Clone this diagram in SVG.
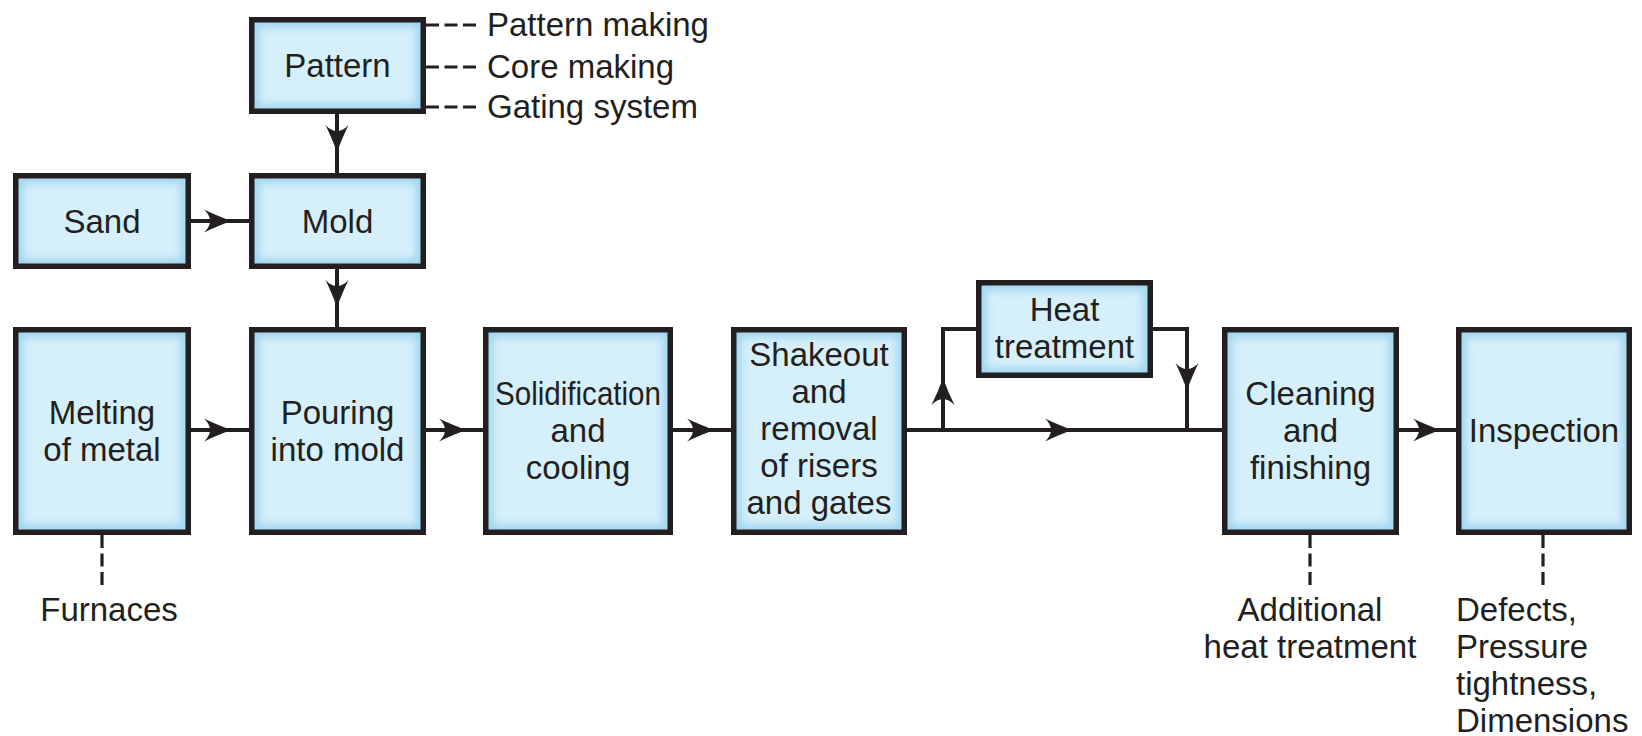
<svg xmlns="http://www.w3.org/2000/svg" width="1642" height="736" viewBox="0 0 1642 736">
<style>
.fill{fill:#9fd5f0}
.glow{fill:#d5effb;filter:url(#soft)}
.frame{fill:none;stroke:#231f20;stroke-width:5.5}
text{font-family:"Liberation Sans",Arial,Helvetica,sans-serif;font-size:33px;fill:#231f20}
.c{text-anchor:middle}
.line{fill:none;stroke:#231f20;stroke-width:4}
.arr{marker-mid:url(#ah)}
.dash{fill:none;stroke:#231f20;stroke-width:3.2;stroke-dasharray:13 5.5}
</style>
<defs>
<filter id="soft" x="-10%" y="-10%" width="120%" height="120%"><feGaussianBlur stdDeviation="4"/></filter>
<marker id="ah" markerUnits="userSpaceOnUse" viewBox="-28 -12 30 24" refX="0" refY="0" markerWidth="30" markerHeight="24" orient="auto">
<path d="M0,0 C-8,-3 -18,-7 -27,-11.5 C-19,-4 -19,4 -27,11.5 C-18,7 -8,3 0,0 Z" fill="#231f20"/>
</marker>
</defs>

<g id="connectors">
<path class="line arr" d="M337,114 L337,152 L337,173"/>
<path class="line arr" d="M191,221 L231,221 L249,221"/>
<path class="line arr" d="M337,269 L337,307 L337,327"/>
<path class="line arr" d="M191,430 L231,430 L249,430"/>
<path class="line arr" d="M426,430 L466,430 L483,430"/>
<path class="line arr" d="M673,430 L714,430 L731,430"/>
<path class="line arr" d="M907,430 L1072,430 L1222,430"/>
<path class="line" d="M943,430 L943,329 L976,329"/>
<path class="line arr" d="M943,410 L943,378 L943,360"/>
<path class="line" d="M1153,329 L1187,329 L1187,430"/>
<path class="line arr" d="M1187,360 L1187,390 L1187,410"/>
<path class="line arr" d="M1399,430 L1440,430 L1456,430"/>
<path class="dash" d="M426,25 H478 M426,67 H478 M426,107 H478"/>
<path class="dash" d="M102,535 V588"/>
<path class="dash" d="M1310,535 V588"/>
<path class="dash" d="M1543,535 V588"/>
</g>

<g id="pattern">
<rect class="fill" x="251.75" y="19.75" width="171.5" height="91.5"/>
<rect class="glow" x="259" y="27" width="157" height="77"/>
<rect class="frame" x="251.75" y="19.75" width="171.5" height="91.5"/>
<text class="c" x="337.5" y="77">Pattern</text>
</g>

<g id="sand">
<rect class="fill" x="15.75" y="175.75" width="172.5" height="90.5"/>
<rect class="glow" x="23" y="183" width="158" height="76"/>
<rect class="frame" x="15.75" y="175.75" width="172.5" height="90.5"/>
<text class="c" x="102" y="233">Sand</text>
</g>

<g id="mold">
<rect class="fill" x="251.75" y="175.75" width="171.5" height="90.5"/>
<rect class="glow" x="259" y="183" width="157" height="76"/>
<rect class="frame" x="251.75" y="175.75" width="171.5" height="90.5"/>
<text class="c" x="337.5" y="233">Mold</text>
</g>

<g id="melting">
<rect class="fill" x="15.75" y="329.75" width="172.5" height="202.5"/>
<rect class="glow" x="23" y="337" width="158" height="188"/>
<rect class="frame" x="15.75" y="329.75" width="172.5" height="202.5"/>
<text class="c" x="102" y="424">Melting</text>
<text class="c" x="102" y="461">of metal</text>
</g>

<g id="pouring">
<rect class="fill" x="251.75" y="329.75" width="171.5" height="202.5"/>
<rect class="glow" x="259" y="337" width="157" height="188"/>
<rect class="frame" x="251.75" y="329.75" width="171.5" height="202.5"/>
<text class="c" x="337.5" y="424">Pouring</text>
<text class="c" x="337.5" y="461">into mold</text>
</g>

<g id="solidification">
<rect class="fill" x="485.75" y="329.75" width="184.5" height="202.5"/>
<rect class="glow" x="493" y="337" width="170" height="188"/>
<rect class="frame" x="485.75" y="329.75" width="184.5" height="202.5"/>
<text class="c" x="578" y="405" textLength="166" lengthAdjust="spacingAndGlyphs">Solidification</text>
<text class="c" x="578" y="442">and</text>
<text class="c" x="578" y="479">cooling</text>
</g>

<g id="shakeout">
<rect class="fill" x="733.75" y="329.75" width="170.5" height="202.5"/>
<rect class="glow" x="741" y="337" width="156" height="188"/>
<rect class="frame" x="733.75" y="329.75" width="170.5" height="202.5"/>
<text class="c" x="819" y="366">Shakeout</text>
<text class="c" x="819" y="403">and</text>
<text class="c" x="819" y="440">removal</text>
<text class="c" x="819" y="477">of risers</text>
<text class="c" x="819" y="514">and gates</text>
</g>

<g id="heat">
<rect class="fill" x="978.75" y="282.75" width="171.5" height="92.5"/>
<rect class="glow" x="986" y="290" width="157" height="78"/>
<rect class="frame" x="978.75" y="282.75" width="171.5" height="92.5"/>
<text class="c" x="1064.5" y="321">Heat</text>
<text class="c" x="1064.5" y="358">treatment</text>
</g>

<g id="cleaning">
<rect class="fill" x="1224.75" y="329.75" width="171.5" height="202.5"/>
<rect class="glow" x="1232" y="337" width="157" height="188"/>
<rect class="frame" x="1224.75" y="329.75" width="171.5" height="202.5"/>
<text class="c" x="1310.5" y="405">Cleaning</text>
<text class="c" x="1310.5" y="442">and</text>
<text class="c" x="1310.5" y="479">finishing</text>
</g>

<g id="inspection">
<rect class="fill" x="1458.75" y="329.75" width="170.5" height="202.5"/>
<rect class="glow" x="1466" y="337" width="156" height="188"/>
<rect class="frame" x="1458.75" y="329.75" width="170.5" height="202.5"/>
<text class="c" x="1544" y="442">Inspection</text>
</g>

<g id="annotations">
<text x="487" y="36">Pattern making</text>
<text x="487" y="78">Core making</text>
<text x="487" y="118">Gating system</text>
<text class="c" x="109" y="621">Furnaces</text>
<text class="c" x="1310" y="621">Additional</text>
<text class="c" x="1310" y="658">heat treatment</text>
<text x="1456" y="621">Defects,</text>
<text x="1456" y="658">Pressure</text>
<text x="1456" y="695">tightness,</text>
<text x="1456" y="732">Dimensions</text>
</g>
</svg>
